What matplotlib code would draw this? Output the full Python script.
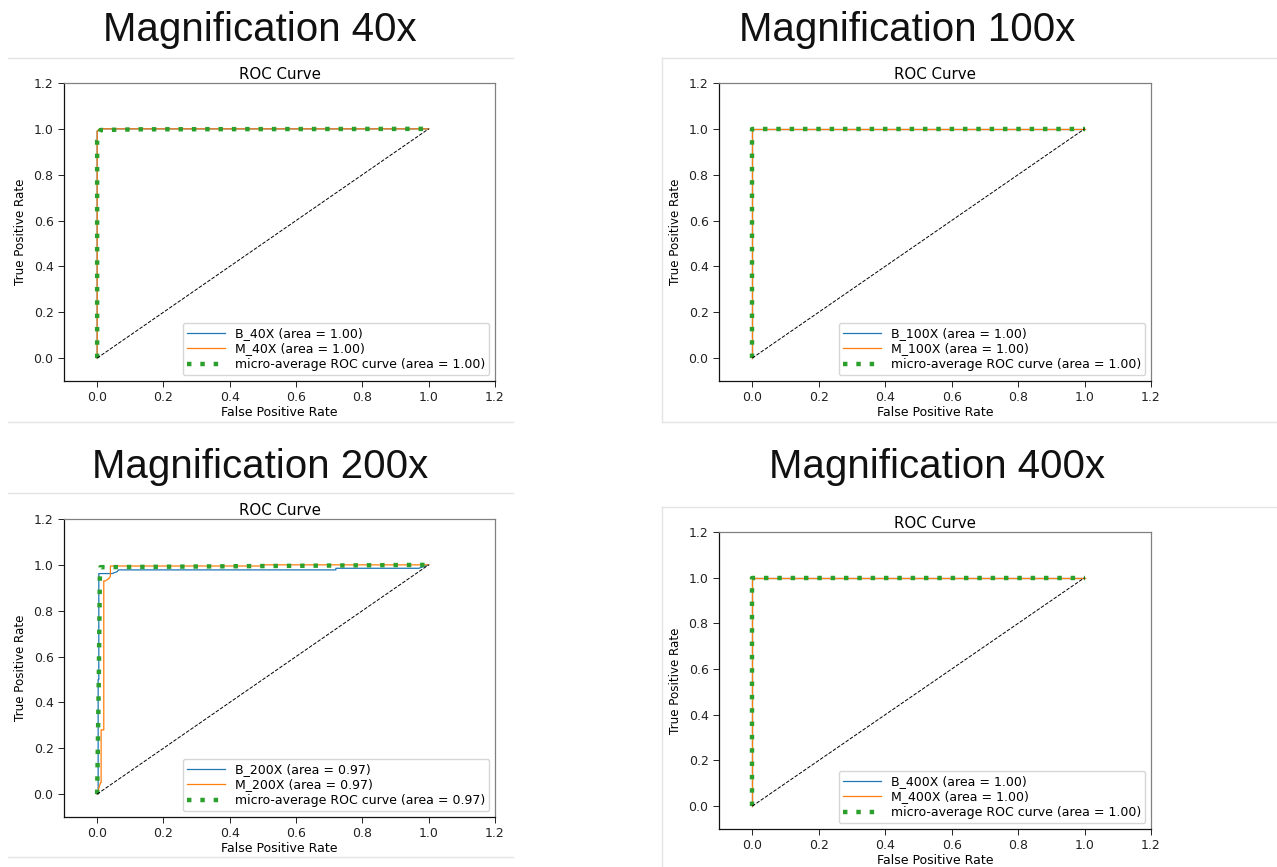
import matplotlib
matplotlib.use("Agg")
import matplotlib.pyplot as plt
from matplotlib.lines import Line2D

# ROC points
fpr_b_40 = [0.0, 0.0, 0.008, 1.0]
tpr_b_40 = [0.0, 0.99, 1.0, 1.0]
fpr_m_40 = [0.0, 0.0, 0.008, 1.0]
tpr_m_40 = [0.0, 0.99, 1.0, 1.0]
fpr_micro_40 = [0.0, 0.0, 0.01, 0.13, 1.0]
tpr_micro_40 = [0.0, 0.95, 0.995, 0.998, 1.0]

fpr_b_100 = [0.0, 0.0, 1.0]
tpr_b_100 = [0.0, 1.0, 1.0]
fpr_m_100 = [0.0, 0.0, 1.0]
tpr_m_100 = [0.0, 1.0, 1.0]
fpr_micro_100 = [0.0, 0.0, 1.0]
tpr_micro_100 = [0.0, 1.0, 1.0]

fpr_b_200 = [0.0, 0.003, 0.003, 0.005, 0.005, 0.045, 0.06, 0.065, 0.72, 0.72, 0.97, 1.0]
tpr_b_200 = [0.0, 0.0, 0.5, 0.5, 0.962, 0.962, 0.97, 0.978, 0.978, 0.985, 0.985, 1.0]
fpr_m_200 = [0.0, 0.01, 0.012, 0.012, 0.02, 0.02, 0.025, 0.035, 0.04, 0.04, 0.5, 0.5, 1.0]
tpr_m_200 = [0.0, 0.05, 0.05, 0.28, 0.28, 0.93, 0.93, 0.94, 0.95, 0.995, 0.995, 1.0, 1.0]
fpr_micro_200 = [0.0, 0.005, 0.008, 0.01, 0.04, 1.0]
tpr_micro_200 = [0.0, 0.5, 0.94, 0.99, 0.99, 1.0]

fpr_b_400 = [0.0, 0.0, 1.0]
tpr_b_400 = [0.0, 1.0, 1.0]
fpr_m_400 = [0.0, 0.0, 1.0]
tpr_m_400 = [0.0, 1.0, 1.0]
fpr_micro_400 = [0.0, 0.0, 1.0]
tpr_micro_400 = [0.0, 1.0, 1.0]

magnifications = ["40x", "100x", "200x", "400x"]
class_names = ["40X", "100X", "200X", "400X"]
auc_b = [1.00, 1.00, 0.97, 1.00]
auc_m = [1.00, 1.00, 0.97, 1.00]
auc_micro = [1.00, 1.00, 0.97, 1.00]
ticks = [0.0, 0.2, 0.4, 0.6, 0.8, 1.0, 1.2]

W, H = 1277, 867
fig = plt.figure(figsize=(W / 100, H / 100), dpi=100)
fig.patch.set_facecolor("white")


def px_axes(left, top, right, bottom):
    return fig.add_axes([left / W, 1 - bottom / H, (right - left) / W, (bottom - top) / H])


def px_line(x0, y0, x1, y1):
    fig.add_artist(Line2D([x0 / W, x1 / W], [1 - y0 / H, 1 - y1 / H],
                          transform=fig.transFigure, color="#e4e4e4", lw=1.0))


def roc_panel(ax, fb, tb, fm, tm, fmi, tmi, name, ab, am, ami):
    ax.plot(fb, tb, color="#1f77b4", lw=0.9, label="B_%s (area = %.2f)" % (name, ab))
    ax.plot(fm, tm, color="#ff7f0e", lw=0.9, label="M_%s (area = %.2f)" % (name, am))
    ax.plot(fmi, tmi, color="#2ca02c", lw=3.2, linestyle=(0, (1, 2.0)),
            label="micro-average ROC curve (area = %.2f)" % ami)
    ax.plot([0, 1], [0, 1], "k--", lw=0.7)
    ax.set_xlim(-0.1, 1.2)
    ax.set_ylim(-0.1, 1.2)
    ax.set_xticks(ticks)
    ax.set_yticks(ticks)
    ax.tick_params(labelsize=9, colors="#222222", length=4, width=0.7)
    ax.set_xlabel("False Positive Rate", fontsize=9, labelpad=1)
    ax.set_ylabel("True Positive Rate", fontsize=8.6, labelpad=5)
    ax.set_title("ROC Curve", fontsize=10.8, pad=3)
    for side in ["left", "bottom"]:
        ax.spines[side].set_color("#111111")
        ax.spines[side].set_linewidth(0.9)
    for side in ["top", "right"]:
        ax.spines[side].set_color("#808080")
        ax.spines[side].set_linewidth(0.9)
    leg = ax.legend(loc="lower right", fontsize=9, handlelength=3.0,
                    borderaxespad=0.45, labelspacing=0.2, borderpad=0.35)
    leg.get_frame().set_edgecolor("#cccccc")


# separators / screenshot frames
px_line(8, 58, 513, 58)
px_line(8, 422, 513, 422)
px_line(662, 58, 1277, 58)
px_line(662, 58, 662, 422)
px_line(662, 422, 1277, 422)
px_line(8, 493, 513, 493)
px_line(8, 857, 513, 857)
px_line(662, 507, 1277, 507)
px_line(662, 507, 662, 867)

title_kw = dict(fontsize=29, family=["Liberation Sans", "DejaVu Sans"],
                ha="center", va="center", color="#111111")
fig.text(260 / W, 1 - 30 / H, "Magnification " + magnifications[0], **title_kw)
fig.text(907 / W, 1 - 30 / H, "Magnification " + magnifications[1], **title_kw)
fig.text(260 / W, 1 - 467 / H, "Magnification " + magnifications[2], **title_kw)
fig.text(937 / W, 1 - 467 / H, "Magnification " + magnifications[3], **title_kw)

ax1 = px_axes(64, 83, 495, 381)
roc_panel(ax1, fpr_b_40, tpr_b_40, fpr_m_40, tpr_m_40, fpr_micro_40, tpr_micro_40,
          class_names[0], auc_b[0], auc_m[0], auc_micro[0])

ax2 = px_axes(719, 83, 1151, 381)
roc_panel(ax2, fpr_b_100, tpr_b_100, fpr_m_100, tpr_m_100, fpr_micro_100, tpr_micro_100,
          class_names[1], auc_b[1], auc_m[1], auc_micro[1])

ax3 = px_axes(64, 519, 495, 817)
roc_panel(ax3, fpr_b_200, tpr_b_200, fpr_m_200, tpr_m_200, fpr_micro_200, tpr_micro_200,
          class_names[2], auc_b[2], auc_m[2], auc_micro[2])

ax4 = px_axes(719, 532, 1151, 829)
roc_panel(ax4, fpr_b_400, tpr_b_400, fpr_m_400, tpr_m_400, fpr_micro_400, tpr_micro_400,
          class_names[3], auc_b[3], auc_m[3], auc_micro[3])

fig.savefig("out.png", dpi=100, facecolor="white")
